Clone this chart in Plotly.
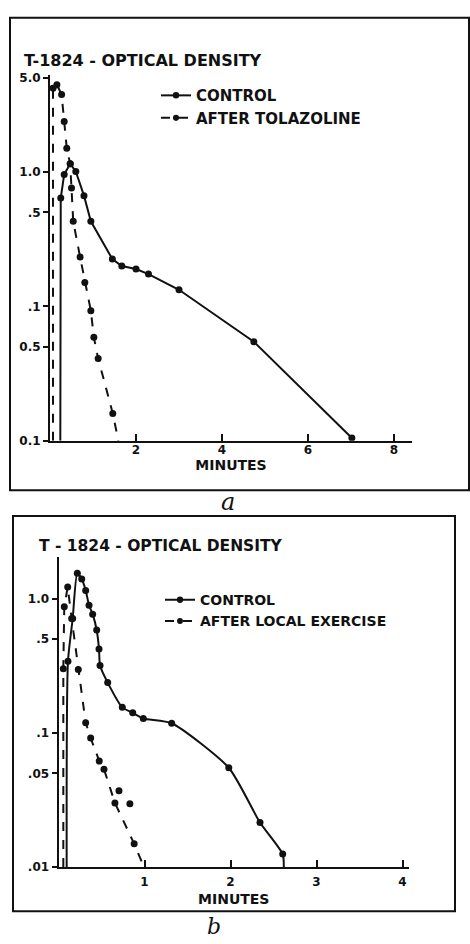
import plotly.graph_objects as go

W, H = 470, 944

# ---------------- data: panel a ----------------
a_control_min = [0.24, 0.25, 0.33, 0.47, 0.60, 0.79, 0.95, 1.45, 1.67, 2.00, 2.29, 3.00, 4.74, 7.02]
a_control_od = [0.01, 0.64, 0.96, 1.15, 1.01, 0.667, 0.43, 0.225, 0.20, 0.19, 0.174, 0.133, 0.0546, 0.0105]

a_tolaz_min = [0.07, 0.07, 0.16, 0.27, 0.33, 0.39, 0.47, 0.50, 0.54, 0.70, 0.81, 0.95, 1.02, 1.12, 1.46, 1.59]
a_tolaz_od = [0.01, 4.2, 4.46, 3.77, 2.38, 1.50, 1.15, 0.76, 0.43, 0.233, 0.151, 0.093, 0.0589, 0.041, 0.016, 0.01]

a_yticks = [5, 1, 0.5, 0.1, 0.05, 0.01]
a_yticktext = ["5.0", "1.0", ".5", ".1", "0.5", "0.1"]
a_xticks = [2, 4, 6, 8]

# ---------------- data: panel b ----------------
b_control_min = [0.095, 0.11, 0.165, 0.219, 0.27, 0.316, 0.355, 0.397, 0.444, 0.471, 0.483,
                 0.572, 0.742, 0.863, 0.986, 1.316, 1.98, 2.343, 2.607, 2.62]
b_control_od = [0.01, 0.342, 0.712, 1.546, 1.40, 1.153, 0.894, 0.767, 0.585, 0.421, 0.318,
                0.237, 0.155, 0.141, 0.128, 0.118, 0.055, 0.0215, 0.0125, 0.01]

b_exer_min = [0.056, 0.056, 0.067, 0.107, 0.153, 0.23, 0.316, 0.374, 0.474, 0.529, 0.656, 0.88, 0.994]
b_exer_od = [0.01, 0.30, 0.87, 1.22, 0.712, 0.297, 0.119, 0.0916, 0.0617, 0.0536, 0.0301, 0.0149, 0.01]

b_exer_extra_min = [0.703, 0.83]
b_exer_extra_od = [0.0371, 0.0296]

b_yticks = [1, 0.5, 0.1, 0.05, 0.01]
b_yticktext = ["1.0", ".5", ".1", ".05", ".01"]
b_xticks = [1, 2, 3, 4]

# ---------------- helpers ----------------
def fx(p):
    return p / W

def fy(p):
    return 1 - p / H

INK = "#111111"
FONT = "DejaVu Sans"
MS = 7


def marker_style(n, hide_first=True, hide_last=False):
    s = [MS] * n
    if hide_first:
        s[0] = 0
    if hide_last:
        s[-1] = 0
    return dict(color=INK, size=s, opacity=1, line=dict(color=INK, width=0))


fig = go.Figure()

# panel a
fig.add_trace(go.Scatter(x=a_control_min, y=a_control_od, mode="lines+markers",
                         name="CONTROL", line=dict(color=INK, width=2),
                         marker=marker_style(len(a_control_min)),
                         xaxis="x", yaxis="y", legend="legend"))
fig.add_trace(go.Scatter(x=a_tolaz_min, y=a_tolaz_od, mode="lines+markers",
                         name="AFTER TOLAZOLINE", line=dict(color=INK, width=2, dash="dash"),
                         marker=marker_style(len(a_tolaz_min), True, True),
                         xaxis="x", yaxis="y", legend="legend"))

# panel b
fig.add_trace(go.Scatter(x=b_control_min, y=b_control_od, mode="lines+markers",
                         name="CONTROL", line=dict(color=INK, width=2, shape="spline", smoothing=0.6),
                         marker=marker_style(len(b_control_min), True, True),
                         xaxis="x2", yaxis="y2", legend="legend2"))
fig.add_trace(go.Scatter(x=b_exer_min, y=b_exer_od, mode="lines+markers",
                         name="AFTER LOCAL EXERCISE", line=dict(color=INK, width=2, dash="dash"),
                         marker=marker_style(len(b_exer_min), True, True),
                         xaxis="x2", yaxis="y2", legend="legend2"))
fig.add_trace(go.Scatter(x=b_exer_extra_min, y=b_exer_extra_od, mode="markers",
                         showlegend=False, marker=dict(color=INK, size=MS, opacity=1),
                         xaxis="x2", yaxis="y2"))

axis_common = dict(showline=True, linecolor=INK, linewidth=2, showgrid=False,
                   zeroline=False, tickcolor=INK, tickwidth=1.5,
                   tickfont=dict(family=FONT, size=12, color=INK, weight="bold"))
title_font = dict(family=FONT, size=14, color=INK, weight="bold")

fig.update_layout(
    width=W, height=H,
    margin=dict(l=0, r=0, t=0, b=0),
    paper_bgcolor="white", plot_bgcolor="white",
    hovermode=False,
    xaxis=dict(domain=[fx(50), fx(412)], range=[0, 362 / 43], anchor="y",
               tickvals=a_xticks, ticks="inside", ticklen=7, ticklabelstandoff=-3,
               title=dict(text="MINUTES", standoff=2, font=title_font),
               **axis_common),
    yaxis=dict(domain=[fy(442), fy(72)], type="log", range=[-2, 370 / 136 - 2], anchor="x",
               tickvals=a_yticks, ticktext=a_yticktext, ticks="outside", ticklen=5,
               **axis_common),
    xaxis2=dict(domain=[fx(58.5), fx(409)], range=[0, 350.5 / 86], anchor="y2",
                tickvals=b_xticks, ticks="inside", ticklen=7, ticklabelstandoff=2,
                title=dict(text="MINUTES", standoff=7, font=title_font),
                **axis_common),
    yaxis2=dict(domain=[fy(873.3), fy(560)], type="log", range=[-2, 313.3 / 135.8 - 2], anchor="x2",
                tickvals=b_yticks, ticktext=b_yticktext, ticks="outside", ticklen=5,
                **axis_common),
    legend=dict(x=fx(156), y=fy(76), xanchor="left", yanchor="top",
                bgcolor="rgba(0,0,0,0)", borderwidth=0, tracegroupgap=0,
                font=dict(family=FONT, size=15, color=INK, weight="bold")),
    legend2=dict(x=fx(160), y=fy(587), xanchor="left", yanchor="top",
                 bgcolor="rgba(0,0,0,0)", borderwidth=0, tracegroupgap=0,
                 font=dict(family=FONT, size=14, color=INK, weight="bold")),
    shapes=[
        dict(type="rect", xref="paper", yref="paper", x0=fx(10), x1=fx(469), y0=fy(492), y1=fy(14),
             line=dict(color=INK, width=2)),
        dict(type="rect", xref="paper", yref="paper", x0=fx(13), x1=fx(455), y0=fy(918), y1=fy(518),
             line=dict(color=INK, width=2)),
    ],
    annotations=[
        dict(text="T-1824 - OPTICAL DENSITY", xref="paper", yref="paper", x=fx(22), y=fy(57),
             xanchor="left", yanchor="middle", showarrow=False,
             font=dict(family=FONT, size=16, color=INK, weight="bold")),
        dict(text="T - 1824 - OPTICAL DENSITY", xref="paper", yref="paper", x=fx(37), y=fy(548),
             xanchor="left", yanchor="middle", showarrow=False,
             font=dict(family=FONT, size=15.5, color=INK, weight="bold")),
        dict(text="a", xref="paper", yref="paper", x=fx(228), y=fy(504),
             xanchor="center", yanchor="middle", showarrow=False,
             font=dict(family="DejaVu Serif", size=24, color=INK, style="italic")),
        dict(text="b", xref="paper", yref="paper", x=fx(214), y=fy(933),
             xanchor="center", yanchor="middle", showarrow=False,
             font=dict(family="DejaVu Serif", size=22, color=INK, style="italic")),
    ],
)

fig.write_html("out.html",
               config={"displayModeBar": False},
               post_script="document.body.style.margin='0';document.body.style.padding='0';")
